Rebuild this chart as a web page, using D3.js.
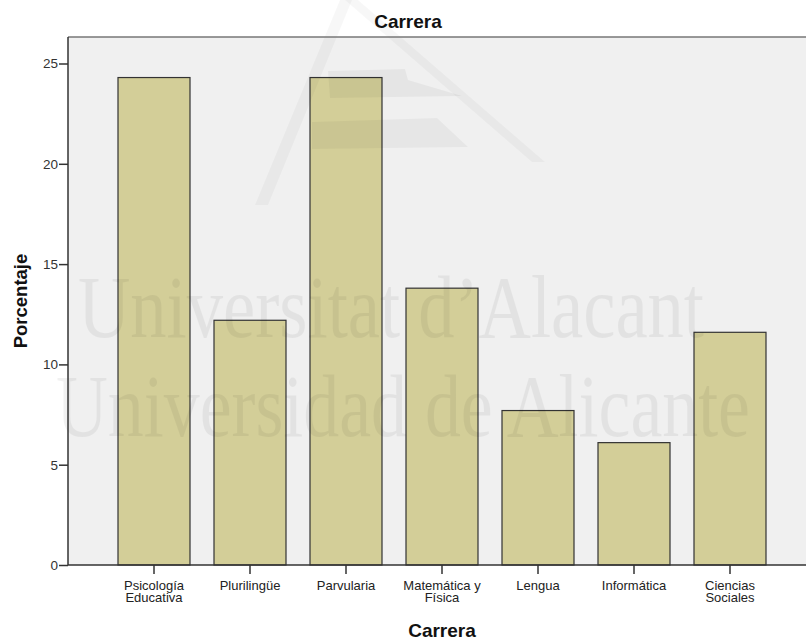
<!DOCTYPE html>
<html>
<head>
<meta charset="utf-8">
<script src="https://cdn.jsdelivr.net/npm/d3@7"></script>
<style>
  html, body { margin: 0; padding: 0; background: #fff; }
  svg { display: block; }
</style>
</head>
<body>
<div id="chart"></div>
<script>
// Carrera — porcentaje por carrera
const categories = [
  ['Psicología', 'Educativa'],
  ['Plurilingüe'],
  ['Parvularia'],
  ['Matemática y', 'Física'],
  ['Lengua'],
  ['Informática'],
  ['Ciencias', 'Sociales']
];
const values = [24.3, 12.2, 24.3, 13.8, 7.7, 6.1, 11.6];
const yTicks = [0, 5, 10, 15, 20, 25];

const width = 806, height = 640;
const plot = { left: 68, top: 37, right: 820, bottom: 565 };
const font = '"Liberation Sans", Arial, sans-serif';

const svg = d3.select('#chart').append('svg')
  .attr('width', width)
  .attr('height', height)
  .attr('viewBox', `0 0 ${width} ${height}`);

const keys = categories.map(c => c.join(' '));

const x = d3.scaleBand()
  .domain(keys)
  .range([106, 778])
  .paddingInner(0.25)
  .paddingOuter(0.125);

const y = d3.scaleLinear()
  .domain([0, 25])
  .range([plot.bottom, 63.5]);

// fondo del área del gráfico
svg.append('rect')
  .attr('x', plot.left)
  .attr('y', plot.top)
  .attr('width', plot.right - plot.left)
  .attr('height', plot.bottom - plot.top)
  .attr('fill', '#f0f0f0');

// barras
svg.append('g')
  .selectAll('rect')
  .data(values)
  .join('rect')
  .attr('x', (d, i) => x(keys[i]))
  .attr('y', d => y(d))
  .attr('width', x.bandwidth())
  .attr('height', d => y(0) - y(d))
  .attr('fill', '#d3ce98')
  .attr('stroke', '#333')
  .attr('stroke-width', 1.2);

// marca de agua (logo + texto), encima de las barras
const wm = svg.append('g').attr('pointer-events', 'none');
wm.append('path')
  .attr('d', 'M255,205 L340,0 L352,0 L268,205 Z')
  .attr('fill', '#000').attr('opacity', 0.03);
wm.append('path')
  .attr('d', 'M345,0 L358,0 L545,162 L532,162 Z')
  .attr('fill', '#000').attr('opacity', 0.03);
wm.append('path')
  .attr('d', 'M328,71 L405,69 L408,80 L462,96 L330,98 Z')
  .attr('fill', '#000').attr('opacity', 0.045);
wm.append('path')
  .attr('d', 'M312,122 L437,118 L468,147 L312,149 Z')
  .attr('fill', '#000').attr('opacity', 0.04);
wm.append('text')
  .attr('x', 78).attr('y', 337)
  .attr('textLength', 626)
  .attr('lengthAdjust', 'spacingAndGlyphs')
  .attr('font-family', '"Liberation Serif", "DejaVu Serif", serif')
  .attr('font-size', 88)
  .attr('fill', '#000').attr('opacity', 0.05)
  .text('Universitat d\u2019Alacant');
wm.append('text')
  .attr('x', 56).attr('y', 436)
  .attr('textLength', 694)
  .attr('lengthAdjust', 'spacingAndGlyphs')
  .attr('font-family', '"Liberation Serif", "DejaVu Serif", serif')
  .attr('font-size', 88)
  .attr('fill', '#000').attr('opacity', 0.05)
  .text('Universidad de Alicante');

// borde superior
svg.append('line')
  .attr('x1', plot.left).attr('x2', plot.right)
  .attr('y1', plot.top).attr('y2', plot.top)
  .attr('stroke', '#777').attr('stroke-width', 1.5);

// eje Y
const yAxis = svg.append('g')
  .attr('transform', `translate(${plot.left},0)`)
  .call(d3.axisLeft(y).tickValues(yTicks).tickSize(9).tickPadding(1).tickSizeOuter(0));
yAxis.select('.domain').remove();
yAxis.append('line')
  .attr('y1', plot.top).attr('y2', plot.bottom)
  .attr('stroke', '#333').attr('stroke-width', 1.5);
yAxis.selectAll('.tick line').attr('stroke', '#333').attr('stroke-width', 1.5);
yAxis.selectAll('.tick text')
  .attr('font-family', font)
  .attr('font-size', 13.5)
  .attr('fill', '#333');

// eje X (etiquetas en dos líneas)
const xAxis = svg.append('g')
  .attr('transform', `translate(0,${plot.bottom})`)
  .call(d3.axisBottom(x).tickSize(9).tickSizeOuter(0));
xAxis.select('.domain').remove();
xAxis.append('line')
  .attr('x1', plot.left).attr('x2', plot.right)
  .attr('stroke', '#333').attr('stroke-width', 1.5);
xAxis.selectAll('.tick line').attr('stroke', '#333').attr('stroke-width', 1.5);
xAxis.selectAll('.tick text').each(function(d, i) {
  const t = d3.select(this)
    .text(null)
    .attr('y', 25)
    .attr('dy', null)
    .attr('font-family', font)
    .attr('font-size', 13)
    .attr('fill', '#222');
  categories[i].forEach((line, j) => {
    t.append('tspan')
      .attr('x', 0)
      .attr('dy', j === 0 ? 0 : 12)
      .text(line);
  });
});

// títulos
svg.append('text')
  .attr('x', 408).attr('y', 28)
  .attr('text-anchor', 'middle')
  .attr('font-family', font)
  .attr('font-weight', 'bold')
  .attr('font-size', 19)
  .attr('fill', '#111')
  .text('Carrera');

svg.append('text')
  .attr('x', 442).attr('y', 637)
  .attr('text-anchor', 'middle')
  .attr('font-family', font)
  .attr('font-weight', 'bold')
  .attr('font-size', 19)
  .attr('fill', '#111')
  .text('Carrera');

svg.append('text')
  .attr('transform', 'translate(27,301) rotate(-90)')
  .attr('text-anchor', 'middle')
  .attr('font-family', font)
  .attr('font-weight', 'bold')
  .attr('font-size', 18.5)
  .attr('fill', '#111')
  .text('Porcentaje');
</script>
</body>
</html>
